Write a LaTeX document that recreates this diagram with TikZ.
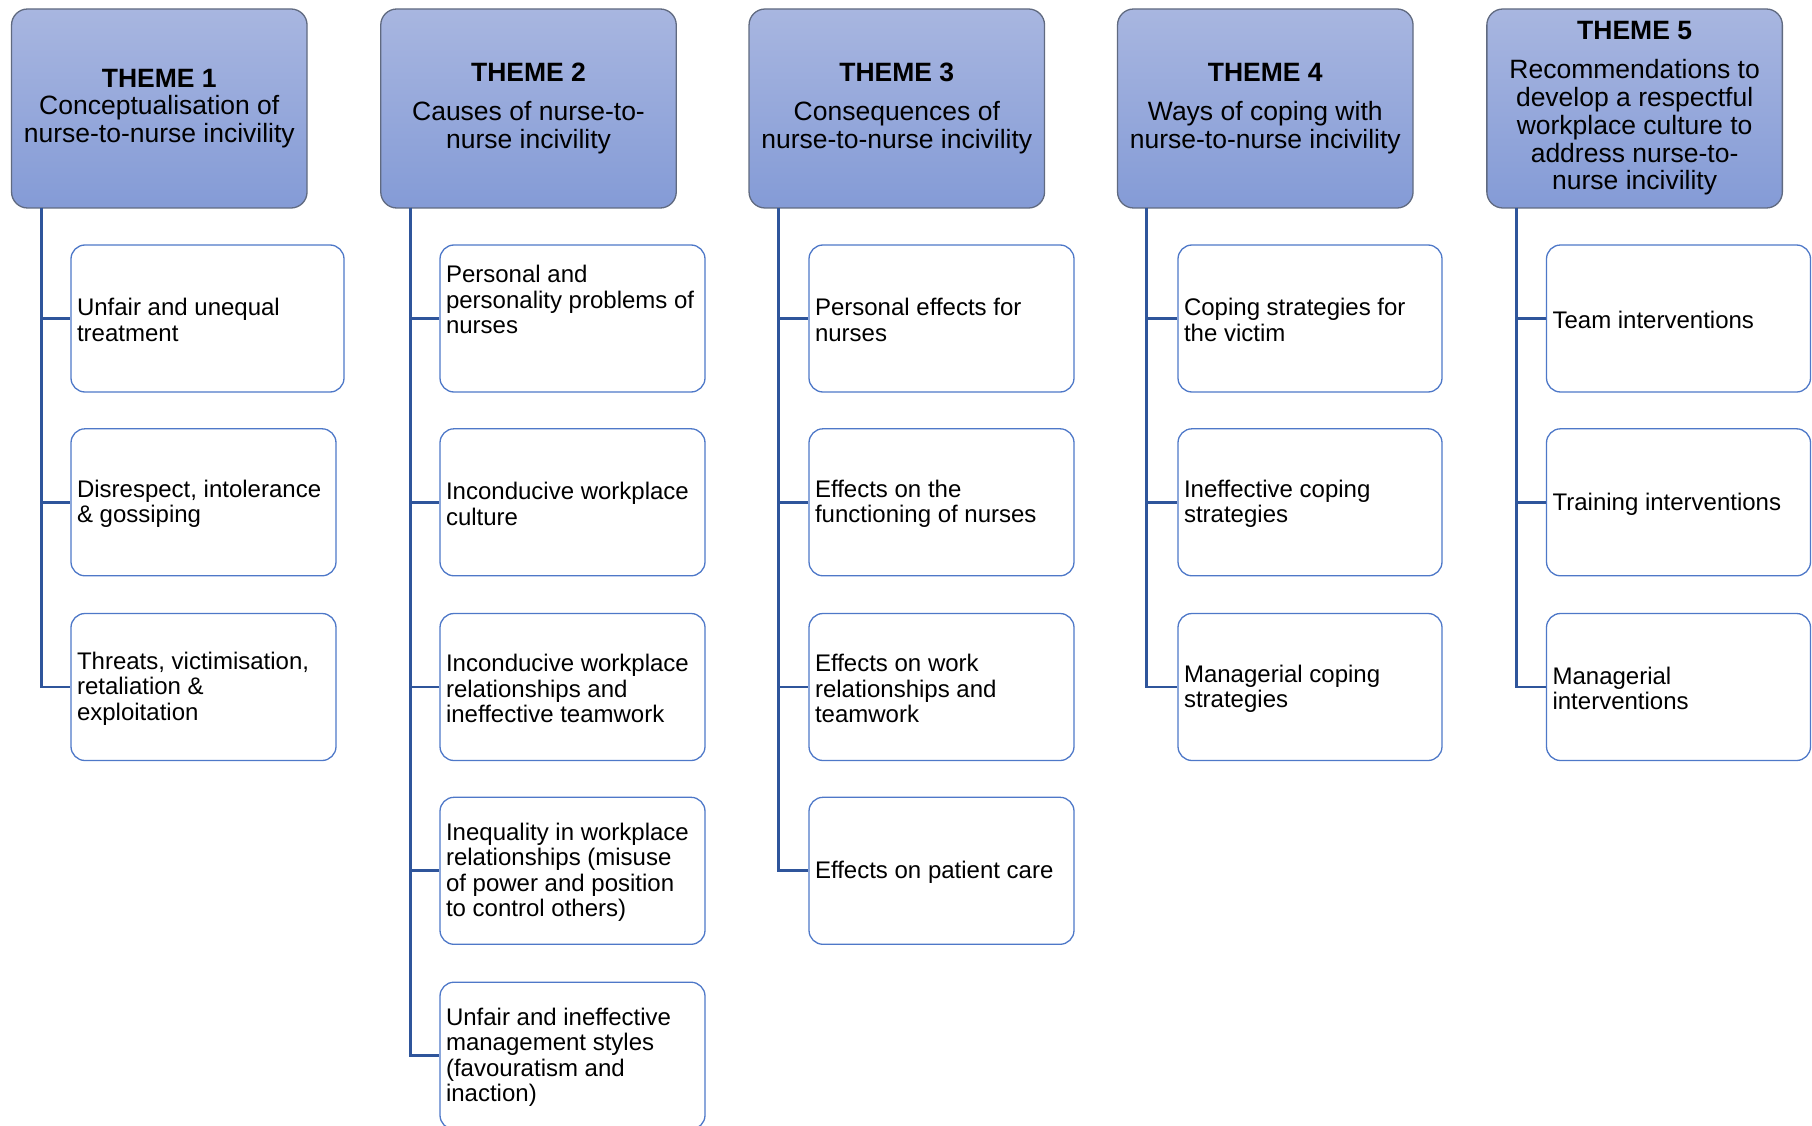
\documentclass[tikz,border=0pt]{standalone}
\usepackage{fontspec}
\setmainfont{Liberation Sans}
\definecolor{hdtop}{RGB}{168,182,224}
\definecolor{hdbot}{RGB}{132,155,214}
\definecolor{hdborder}{RGB}{96,106,128}
\definecolor{cborder}{RGB}{78,120,200}
\definecolor{conncol}{RGB}{47,85,155}
\begin{document}
\begin{tikzpicture}[x=1pt,y=-1pt,
  header/.style={draw=hdborder,line width=1.3pt,rounded corners=16pt,top color=hdtop,bottom color=hdbot,
    minimum width=295.5pt,minimum height=199pt,inner sep=0pt,align=center,
    font=\fontsize{26.5}{27.7}\selectfont},
  cbox/.style={draw=cborder,line width=1.3pt,rounded corners=14pt,fill=white,minimum height=147pt,inner sep=0pt},
  ctext/.style={anchor=west,align=left,inner sep=0pt,font=\fontsize{24}{25.4}\selectfont},
  conn/.style={draw=conncol,line width=2.8pt,line join=miter}]
\useasboundingbox (0,0) rectangle (1812,1126);
% headers
\node[header] (h1) at (159.3,108.5) {\textbf{THEME 1}\\Conceptualisation of\\nurse-to-nurse incivility};
\node[header] (h2) at (528.5,108.5) {\textbf{THEME 2}\\[11.3pt]Causes of nurse-to-\\nurse incivility};
\node[header] (h3) at (896.8,108.5) {\textbf{THEME 3}\\[11.3pt]Consequences of\\nurse-to-nurse incivility};
\node[header] (h4) at (1265.3,108.5) {\textbf{THEME 4}\\[11.3pt]Ways of coping with\\nurse-to-nurse incivility};
\node[header] (h5) at (1634.6,108.5) {\textbf{THEME 5}\\[11.3pt]Recommendations to\\develop a respectful\\workplace culture to\\address nurse-to-\\nurse incivility};
% vertical line tops
\coordinate (v1) at (41.1,208);
\coordinate (v2) at (410.5,208);
\coordinate (v3) at (778.7,208);
\coordinate (v4) at (1146.8,208);
\coordinate (v5) at (1516.5,208);
% theme 1 boxes
\node[cbox,minimum width=273pt] (b11) at (207.5,318.5) {};
\node[cbox,minimum width=265pt] (b12) at (203.5,502.3) {};
\node[cbox,minimum width=265pt] (b13) at (203.5,687) {};
% theme 2
\node[cbox,minimum width=265pt] (b21) at (572.5,318.5) {};
\node[cbox,minimum width=265pt] (b22) at (572.5,502.3) {};
\node[cbox,minimum width=265pt] (b23) at (572.5,687) {};
\node[cbox,minimum width=265pt] (b24) at (572.5,870.8) {};
\node[cbox,minimum width=265pt] (b25) at (572.5,1055.7) {};
% theme 3
\node[cbox,minimum width=265pt] (b31) at (941.5,318.5) {};
\node[cbox,minimum width=265pt] (b32) at (941.5,502.3) {};
\node[cbox,minimum width=265pt] (b33) at (941.5,687) {};
\node[cbox,minimum width=265pt] (b34) at (941.5,870.8) {};
% theme 4
\node[cbox,minimum width=264pt] (b41) at (1310,318.5) {};
\node[cbox,minimum width=264pt] (b42) at (1310,502.3) {};
\node[cbox,minimum width=264pt] (b43) at (1310,687) {};
% theme 5
\node[cbox,minimum width=264pt] (b51) at (1678.5,318.5) {};
\node[cbox,minimum width=264pt] (b52) at (1678.5,502.3) {};
\node[cbox,minimum width=264pt] (b53) at (1678.5,687) {};
% connectors
\foreach \b in {b11,b12,b13} \draw[conn] (v1) |- (\b.west);
\foreach \b in {b21,b22,b23,b24,b25} \draw[conn] (v2) |- (\b.west);
\foreach \b in {b31,b32,b33,b34} \draw[conn] (v3) |- (\b.west);
\foreach \b in {b41,b42,b43} \draw[conn] (v4) |- (\b.west);
\foreach \b in {b51,b52,b53} \draw[conn] (v5) |- (\b.west);
% texts
\node[ctext] (t11) at ([xshift=6.5pt,yshift=-1.5pt]b11.west) {Unfair and unequal\\treatment};
\node[ctext] (t12) at ([xshift=6.5pt,yshift=-1.5pt]b12.west) {Disrespect, intolerance\\\& gossiping};
\node[ctext] (t13) at ([xshift=6.5pt,yshift=-1.5pt]b13.west) {Threats, victimisation,\\retaliation \&\\exploitation};
\node[ctext] (t21) at ([xshift=6.5pt,yshift=19pt]b21.west) {Personal and\\personality problems of\\nurses};
\node[ctext] (t22) at ([xshift=6.5pt,yshift=-1.5pt]b22.west) {Inconducive workplace\\culture};
\node[ctext] (t23) at ([xshift=6.5pt,yshift=-1.5pt]b23.west) {Inconducive workplace\\relationships and\\ineffective teamwork};
\node[ctext] (t24) at ([xshift=6.5pt,yshift=-1.5pt]b24.west) {Inequality in workplace\\relationships (misuse\\of power and position\\to control others)};
\node[ctext] (t25) at ([xshift=6.5pt,yshift=-1.5pt]b25.west) {Unfair and ineffective\\management styles\\(favouratism and\\inaction)};
\node[ctext] (t31) at ([xshift=6.5pt,yshift=-1.5pt]b31.west) {Personal effects for\\nurses};
\node[ctext] (t32) at ([xshift=6.5pt,yshift=-1.5pt]b32.west) {Effects on the\\functioning of nurses};
\node[ctext] (t33) at ([xshift=6.5pt,yshift=-1.5pt]b33.west) {Effects on work\\relationships and\\teamwork};
\node[ctext] (t34) at ([xshift=6.5pt,yshift=-1.5pt]b34.west) {Effects on patient care};
\node[ctext] (t41) at ([xshift=6.5pt,yshift=-1.5pt]b41.west) {Coping strategies for\\the victim};
\node[ctext] (t42) at ([xshift=6.5pt,yshift=-1.5pt]b42.west) {Ineffective coping\\strategies};
\node[ctext] (t43) at ([xshift=6.5pt,yshift=-1.5pt]b43.west) {Managerial coping\\strategies};
\node[ctext] (t51) at ([xshift=6.5pt,yshift=-1.5pt]b51.west) {Team interventions};
\node[ctext] (t52) at ([xshift=6.5pt,yshift=-1.5pt]b52.west) {Training interventions};
\node[ctext] (t53) at ([xshift=6.5pt,yshift=-1.5pt]b53.west) {Managerial\\interventions};
\end{tikzpicture}
\end{document}
